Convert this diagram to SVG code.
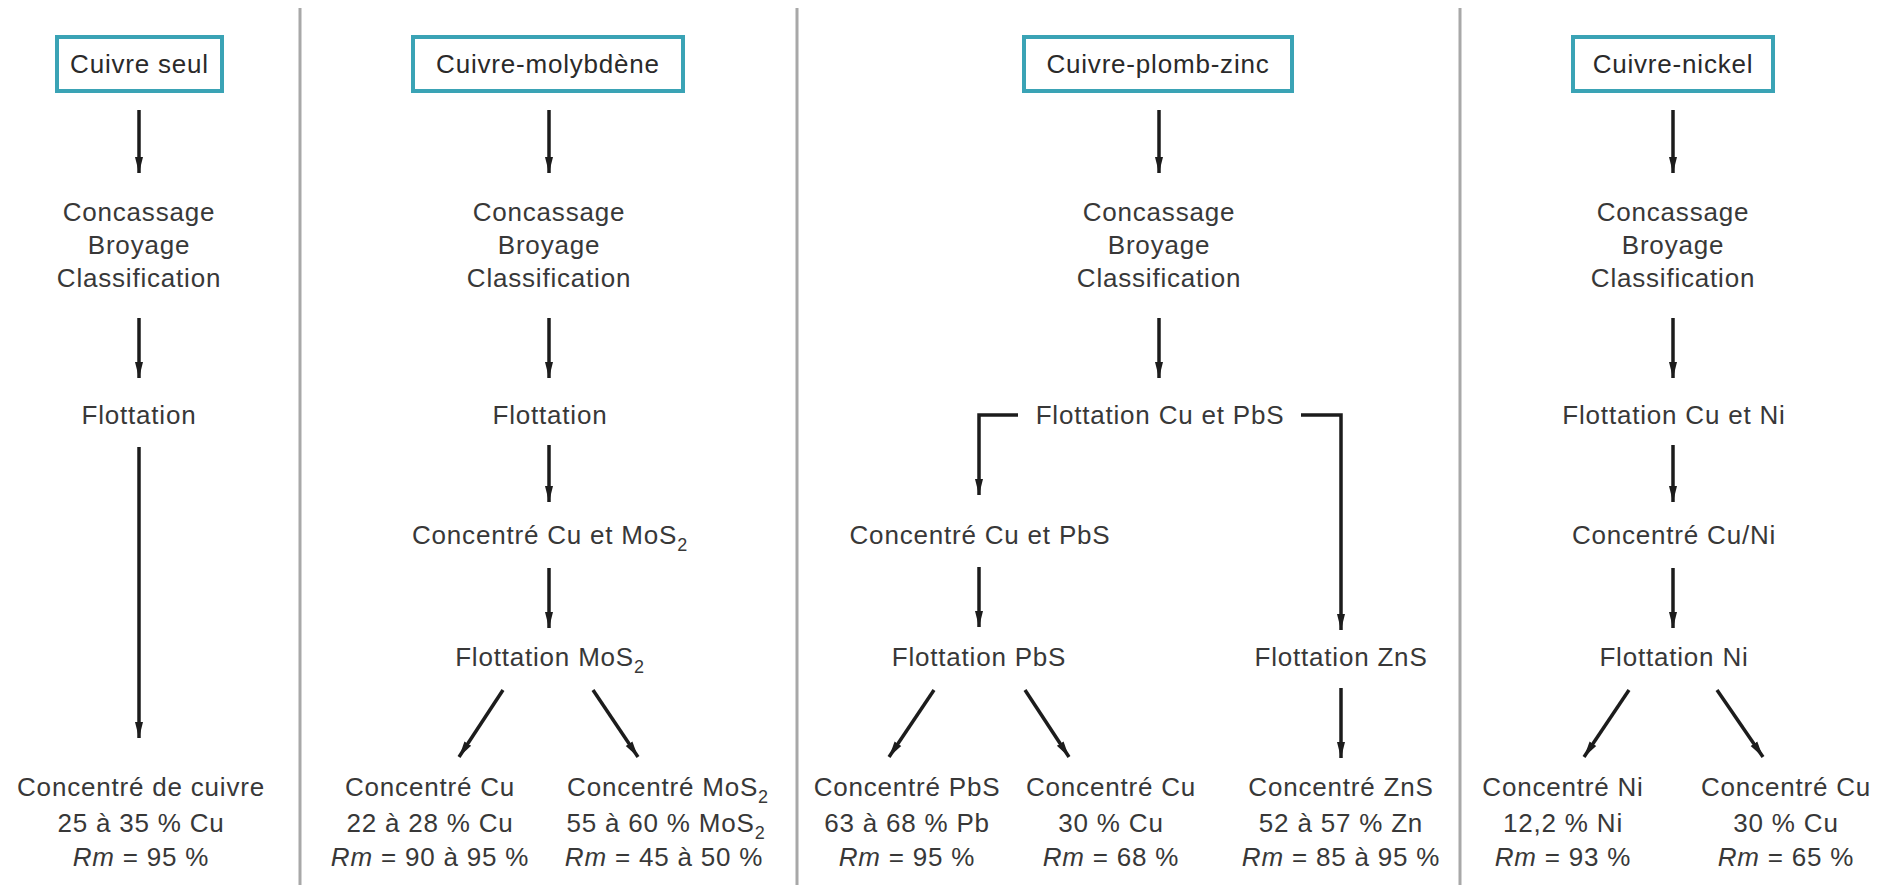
<svg xmlns="http://www.w3.org/2000/svg" width="1883" height="885" viewBox="0 0 1883 885">
  <style>
    text { font-family: "Liberation Sans", Arial, sans-serif; font-size: 26px; fill: #383838; text-anchor: middle; letter-spacing: 0.8px; }
    .title { fill: #2a2a2a; }
    .box { fill: #ffffff; stroke: #3aa3b5; stroke-width: 4; }
    .flow { fill: none; stroke: #1c1c1c; stroke-width: 3.5; marker-end: url(#head); }
    .sep { stroke: #a8a8a8; stroke-width: 3; }
    .it { font-style: italic; }
    .sub { font-size: 18px; }
  </style>
  <defs>
    <marker id="head" markerUnits="userSpaceOnUse" markerWidth="16" markerHeight="10" refX="16" refY="5" orient="auto">
      <path d="M0,1 L16,5 L0,9 z" fill="#1c1c1c"/>
    </marker>
  </defs>
  <rect width="1883" height="885" fill="#ffffff"/>

  <!-- column separators -->
  <g id="separators">
    <line class="sep" x1="300" y1="8" x2="300" y2="885"/>
    <line class="sep" x1="797" y1="8" x2="797" y2="885"/>
    <line class="sep" x1="1460" y1="8" x2="1460" y2="885" stroke-width="5" stroke="#b8b8b8"/>
  </g>

  <!-- flow arrows -->
  <g id="connectors">
    <!-- copper only -->
    <line class="flow" x1="139" y1="110" x2="139" y2="173"/>
    <line class="flow" x1="139" y1="318" x2="139" y2="378"/>
    <line class="flow" x1="139" y1="447" x2="139" y2="738"/>
    <!-- copper-molybdenum -->
    <line class="flow" x1="549" y1="110" x2="549" y2="173"/>
    <line class="flow" x1="549" y1="318" x2="549" y2="378"/>
    <line class="flow" x1="549" y1="445" x2="549" y2="502"/>
    <line class="flow" x1="549" y1="568" x2="549" y2="628"/>
    <line class="flow" x1="503" y1="690" x2="459" y2="757"/>
    <line class="flow" x1="593" y1="690" x2="638" y2="757"/>
    <!-- copper-lead-zinc -->
    <line class="flow" x1="1159" y1="110" x2="1159" y2="173"/>
    <line class="flow" x1="1159" y1="318" x2="1159" y2="378"/>
    <path class="flow" d="M1018,415 H979 V495"/>
    <path class="flow" d="M1301,415 H1341 V630"/>
    <line class="flow" x1="979" y1="567" x2="979" y2="627"/>
    <line class="flow" x1="934" y1="690" x2="889" y2="757"/>
    <line class="flow" x1="1025" y1="690" x2="1069" y2="757"/>
    <line class="flow" x1="1341" y1="688" x2="1341" y2="758"/>
    <!-- copper-nickel -->
    <line class="flow" x1="1673" y1="110" x2="1673" y2="173"/>
    <line class="flow" x1="1673" y1="318" x2="1673" y2="378"/>
    <line class="flow" x1="1673" y1="445" x2="1673" y2="502"/>
    <line class="flow" x1="1673" y1="568" x2="1673" y2="628"/>
    <line class="flow" x1="1629" y1="690" x2="1584" y2="757"/>
    <line class="flow" x1="1717" y1="690" x2="1763" y2="757"/>
  </g>

  <!-- Column 1: copper only -->
  <g id="cu-head"><rect class="box" x="57" y="37" width="165" height="54"/><text class="title" x="139.5" y="73">Cuivre seul</text></g>
  <g id="cu-prep"><text x="139" y="221">Concassage</text><text x="139" y="254">Broyage</text><text x="139" y="287">Classification</text></g>
  <g id="cu-flot"><text x="139" y="424">Flottation</text></g>
  <g id="cu-conc"><text x="141" y="796">Concentré de cuivre</text><text x="141" y="832">25 à 35 % Cu</text><text x="141" y="866"><tspan class="it">Rm</tspan> = 95 %</text></g>

  <!-- Column 2: copper-molybdenum -->
  <g id="mo-head"><rect class="box" x="413" y="37" width="270" height="54"/><text class="title" x="548" y="73">Cuivre-molybdène</text></g>
  <g id="mo-prep"><text x="549" y="221">Concassage</text><text x="549" y="254">Broyage</text><text x="549" y="287">Classification</text></g>
  <g id="mo-flot"><text x="550" y="424">Flottation</text></g>
  <g id="mo-bulk"><text x="550" y="544">Concentré Cu et MoS<tspan class="sub" dy="7">2</tspan></text></g>
  <g id="mo-flot2"><text x="550" y="666">Flottation MoS<tspan class="sub" dy="7">2</tspan></text></g>
  <g id="mo-cu"><text x="430" y="796">Concentré Cu</text><text x="430" y="832">22 à 28 % Cu</text><text x="430" y="866"><tspan class="it">Rm</tspan> = 90 à 95 %</text></g>
  <g id="mo-mos2"><text x="668" y="796">Concentré MoS<tspan class="sub" dy="7">2</tspan></text><text x="666" y="832">55 à 60 % MoS<tspan class="sub" dy="7">2</tspan></text><text x="664" y="866"><tspan class="it">Rm</tspan> = 45 à 50 %</text></g>

  <!-- Column 3: copper-lead-zinc -->
  <g id="pz-head"><rect class="box" x="1024" y="37" width="268" height="54"/><text class="title" x="1158" y="73">Cuivre-plomb-zinc</text></g>
  <g id="pz-prep"><text x="1159" y="221">Concassage</text><text x="1159" y="254">Broyage</text><text x="1159" y="287">Classification</text></g>
  <g id="pz-flot"><text x="1160" y="424">Flottation Cu et PbS</text></g>
  <g id="pz-bulk"><text x="980" y="544">Concentré Cu et PbS</text></g>
  <g id="pz-flotpb"><text x="979" y="666">Flottation PbS</text></g>
  <g id="pz-flotzn"><text x="1341" y="666">Flottation ZnS</text></g>
  <g id="pz-pb"><text x="907" y="796">Concentré PbS</text><text x="907" y="832">63 à 68 % Pb</text><text x="907" y="866"><tspan class="it">Rm</tspan> = 95 %</text></g>
  <g id="pz-cu"><text x="1111" y="796">Concentré Cu</text><text x="1111" y="832">30 % Cu</text><text x="1111" y="866"><tspan class="it">Rm</tspan> = 68 %</text></g>
  <g id="pz-zn"><text x="1341" y="796">Concentré ZnS</text><text x="1341" y="832">52 à 57 % Zn</text><text x="1341" y="866"><tspan class="it">Rm</tspan> = 85 à 95 %</text></g>

  <!-- Column 4: copper-nickel -->
  <g id="ni-head"><rect class="box" x="1573" y="37" width="200" height="54"/><text class="title" x="1673" y="73">Cuivre-nickel</text></g>
  <g id="ni-prep"><text x="1673" y="221">Concassage</text><text x="1673" y="254">Broyage</text><text x="1673" y="287">Classification</text></g>
  <g id="ni-flot"><text x="1674" y="424">Flottation Cu et Ni</text></g>
  <g id="ni-bulk"><text x="1674" y="544">Concentré Cu/Ni</text></g>
  <g id="ni-flot2"><text x="1674" y="666">Flottation Ni</text></g>
  <g id="ni-ni"><text x="1563" y="796">Concentré Ni</text><text x="1563" y="832">12,2 % Ni</text><text x="1563" y="866"><tspan class="it">Rm</tspan> = 93 %</text></g>
  <g id="ni-cu"><text x="1786" y="796">Concentré Cu</text><text x="1786" y="832">30 % Cu</text><text x="1786" y="866"><tspan class="it">Rm</tspan> = 65 %</text></g>
</svg>
